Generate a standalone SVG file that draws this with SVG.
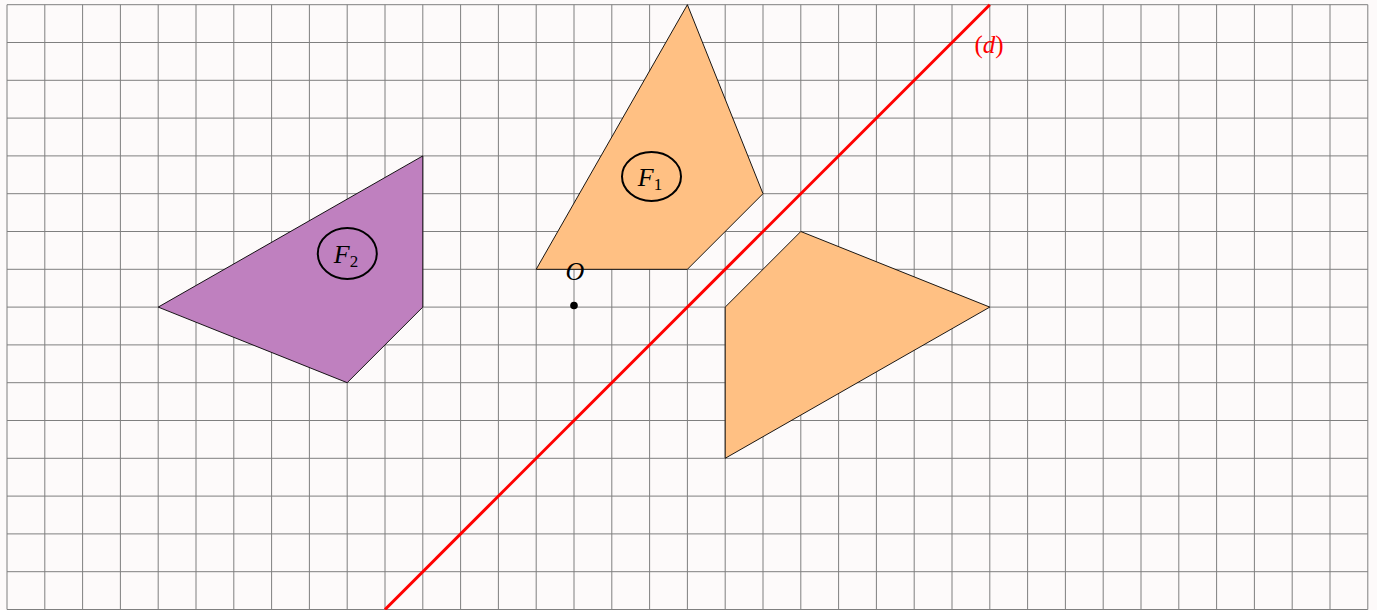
<svg xmlns="http://www.w3.org/2000/svg" width="1377" height="610" viewBox="0 0 1377 610">
<style>
.grid{fill:none;stroke:#7f7f7f;stroke-width:1}
.fig{stroke:#000;stroke-width:0.9;stroke-linejoin:miter}
.orange{fill:#ffc083}
.violet{fill:#bf80bf}
.lbl{stroke:#000;stroke-width:2;fill:none}
.t{font-family:"Liberation Serif","DejaVu Serif",serif;font-style:italic;font-size:26px;fill:#000}
.sub{font-style:normal;font-size:17px}
</style>
<rect x="0" y="0" width="1377" height="610" fill="#fdfafa"/>
<g id="grid">
<path class="grid" d="M7 4.7V609.5M44.8 4.7V609.5M82.6 4.7V609.5M120.4 4.7V609.5M158.2 4.7V609.5M196 4.7V609.5M233.8 4.7V609.5M271.6 4.7V609.5M309.4 4.7V609.5M347.2 4.7V609.5M385 4.7V609.5M422.8 4.7V609.5M460.6 4.7V609.5M498.4 4.7V609.5M536.2 4.7V609.5M574 4.7V609.5M611.8 4.7V609.5M649.6 4.7V609.5M687.4 4.7V609.5M725.2 4.7V609.5M763 4.7V609.5M800.8 4.7V609.5M838.6 4.7V609.5M876.4 4.7V609.5M914.2 4.7V609.5M952 4.7V609.5M989.8 4.7V609.5M1027.6 4.7V609.5M1065.4 4.7V609.5M1103.2 4.7V609.5M1141 4.7V609.5M1178.8 4.7V609.5M1216.6 4.7V609.5M1254.4 4.7V609.5M1292.2 4.7V609.5M1330 4.7V609.5M1367.8 4.7V609.5M7 4.7H1367.8M7 42.5H1367.8M7 80.3H1367.8M7 118.1H1367.8M7 155.9H1367.8M7 193.7H1367.8M7 231.5H1367.8M7 269.3H1367.8M7 307.1H1367.8M7 344.9H1367.8M7 382.7H1367.8M7 420.5H1367.8M7 458.3H1367.8M7 496.1H1367.8M7 533.9H1367.8M7 571.7H1367.8M7 609.5H1367.8"/>
</g>
<g id="F1">
<polygon class="fig orange" points="536.2,269.3 687.4,269.3 763,193.7 687.4,4.7"/>
<ellipse class="lbl" cx="651.5" cy="176.5" rx="29.5" ry="24.5"/>
<text class="t" x="650" y="186" text-anchor="middle">F<tspan class="sub" dy="4">1</tspan></text>
</g>
<g id="F1-image">
<polygon class="fig orange" points="725.2,307.1 800.8,231.5 989.8,307.1 725.2,458.3"/>
</g>
<g id="F2">
<polygon class="fig violet" points="158.2,307.1 422.8,155.9 422.8,307.1 347.2,382.7"/>
<ellipse class="lbl" cx="347.3" cy="253.5" rx="29.5" ry="25.5"/>
<text class="t" x="346" y="262.5" text-anchor="middle">F<tspan class="sub" dy="4">2</tspan></text>
</g>
<g id="O">
<circle cx="574" cy="305.5" r="3.8" fill="#000"/>
<text class="t" x="575" y="280" text-anchor="middle">O</text>
</g>
<g id="connectors">
<line id="d" x1="385" y1="609.5" x2="989.8" y2="4.7" stroke="#ff0000" stroke-width="3"/>
</g>
<g id="d-label">
<text x="989" y="53" text-anchor="middle" font-family="Liberation Serif,DejaVu Serif,serif" font-size="25" fill="#ff0000">(<tspan font-style="italic">d</tspan>)</text>
</g>
</svg>
